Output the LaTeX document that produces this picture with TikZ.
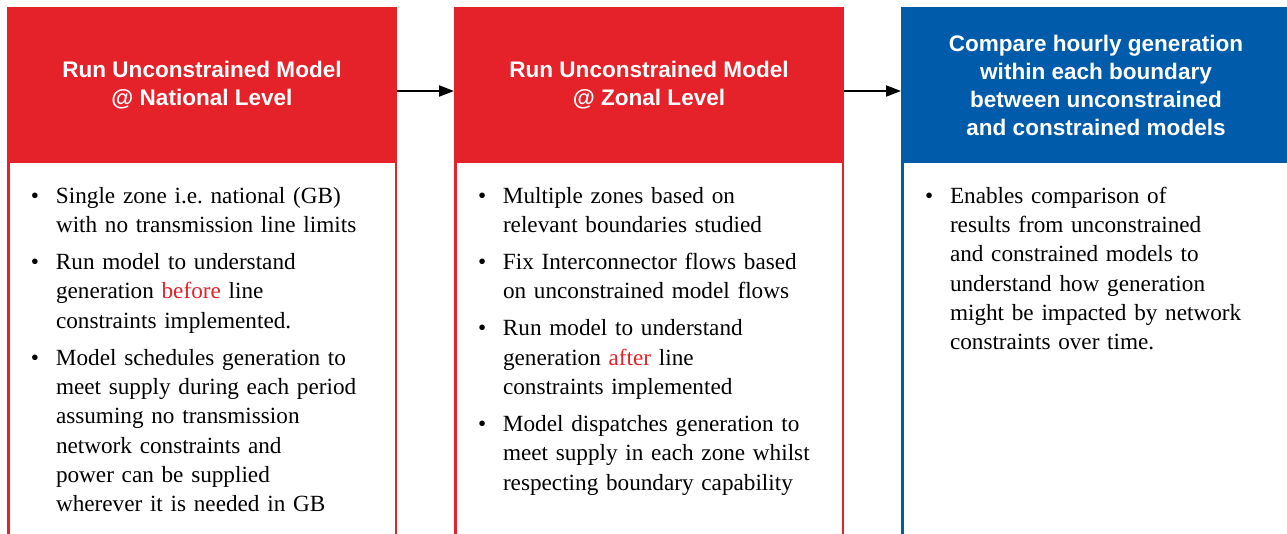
\documentclass[tikz,border=0pt]{standalone}
\usepackage{fontspec}
\setmainfont{Liberation Serif}
\newfontfamily\headfont{Liberation Sans}
\usetikzlibrary{arrows.meta}

\definecolor{ngred}{HTML}{E52129}
\definecolor{ngblue}{HTML}{005BAA}

% one drawing unit = one pixel of the final image
\newlength\pxu
\setlength\pxu{0.75pt}

% bullet item with a hanging indent
\newcommand\bitem{\par\noindent\llap{\makebox[25\pxu][l]{\textbullet}}\strut}

\tikzset{
  headbox/.style={fill=#1, draw=none, inner sep=0, outer sep=0,
    minimum width=390\pxu, minimum height=156\pxu, anchor=north west,
    text=white, align=center,
    font=\headfont\bfseries\fontsize{16.9}{21}\selectfont},
  framebox/.style={draw=#1, line width=2.5\pxu, inner sep=0, outer sep=0,
    minimum width=387.5\pxu, minimum height=375\pxu, anchor=north west},
  bodytext/.style={inner sep=0, outer sep=0, anchor=north west,
    text width=370\pxu,
    font=\fontsize{17.4}{22}\selectfont,
    execute at begin node={\setlength\leftskip{25\pxu}\setlength\parskip{5.8pt}}},
  flow/.style={line width=1.5pt, -{Triangle[length=11.25pt,width=8.25pt]}}
}

\begin{document}
\begin{tikzpicture}[x=0.75pt, y=-0.75pt]
\useasboundingbox (0,0) rectangle (1287,534);
\clip (0,0) rectangle (1287,534);

% framed bodies of the three steps
\node[framebox=ngred]  (b1) at (8.25,160) {};
\node[framebox=ngred]  (b2) at (455.25,160) {};
\node[framebox=ngblue] (b3) at (902.25,160) {};

% headers
\node[headbox=ngred]  (h1) at (7,7)   {Run Unconstrained Model\\@ National Level};
\node[headbox=ngred]  (h2) at (454,7) {Run Unconstrained Model\\@ Zonal Level};
\node[headbox=ngblue] (h3) at (901,7) {Compare hourly generation\\within each boundary\\between unconstrained\\and constrained models};

% flow between steps
\draw[flow] ([yshift=-4.5pt]h1.east) -- ([yshift=-4.5pt]h2.west);
\draw[flow] ([yshift=-4.5pt]h2.east) -- ([yshift=-4.5pt]h3.west);

% step descriptions
\node[bodytext] (t1) at (31,166) {%
  \bitem Single zone i.e.\ national (GB)\newline with no transmission line limits
  \bitem Run model to understand\newline generation \textcolor{ngred}{before} line\newline constraints implemented.
  \bitem Model schedules generation to\newline meet supply during each period\newline assuming no transmission\newline network constraints and\newline power can be supplied\newline wherever it is needed in GB\par};

\node[bodytext] (t2) at (478,166) {%
  \bitem Multiple zones based on\newline relevant boundaries studied
  \bitem Fix Interconnector flows based\newline on unconstrained model flows
  \bitem Run model to understand\newline generation \textcolor{ngred}{after} line\newline constraints implemented
  \bitem Model dispatches generation to\newline meet supply in each zone whilst\newline respecting boundary capability\par};

\node[bodytext] (t3) at (925,166) {%
  \bitem Enables comparison of\newline results from unconstrained\newline and constrained models to\newline understand how generation\newline might be impacted by network\newline constraints over time.\par};
\end{tikzpicture}
\end{document}
